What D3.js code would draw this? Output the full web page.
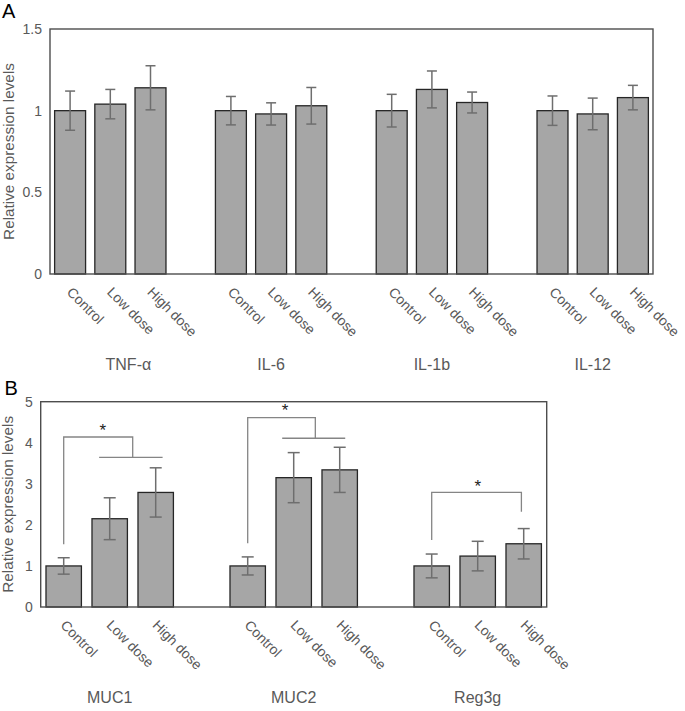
<!DOCTYPE html>
<html>
<head>
<meta charset="utf-8">
<script src="https://cdn.jsdelivr.net/npm/d3@7"></script>
<style>
  body { margin: 0; background: #fff; }
  svg { display: block; font-family: "Liberation Sans", Arial, sans-serif; }
</style>
</head>
<body>
<svg id="chart" width="685" height="711"></svg>
<script>
// ---------- data ----------
const doses = ["Control", "Low dose", "High dose"];

const groupsA = ["TNF-α", "IL-6", "IL-1b", "IL-12"];
const valuesA = [
  [1.00, 1.04, 1.14],
  [1.00, 0.98, 1.03],
  [1.00, 1.13, 1.05],
  [1.00, 0.98, 1.08]
];
const errorsA = [
  [0.12, 0.09, 0.135],
  [0.087, 0.068, 0.112],
  [0.10, 0.113, 0.064],
  [0.09, 0.097, 0.075]
];
const ticksA = [0, 0.5, 1, 1.5];
const groupLabelSlotA = [1.45, 5, 9, 13];

const groupsB = ["MUC1", "MUC2", "Reg3g"];
const valuesB = [
  [1.00, 2.15, 2.79],
  [1.00, 3.15, 3.34],
  [1.00, 1.24, 1.54]
];
const errorsB = [
  [0.20, 0.51, 0.60],
  [0.22, 0.61, 0.55],
  [0.29, 0.36, 0.37]
];
const ticksB = [0, 1, 2, 3, 4, 5];
const groupLabelSlotB = [1, 5, 9];

// significance brackets: [slot, value] polylines, star positions
const bracketLinesB = [
  [[0, 1.53], [0, 4.14], [1.5, 4.14], [1.5, 3.645]],
  [[0.77, 3.645], [2.15, 3.645]],
  [[4, 1.55], [4, 4.61], [5.47, 4.61], [5.47, 4.11]],
  [[4.75, 4.11], [6.12, 4.11]],
  [[8, 1.63], [8, 2.79], [9.95, 2.79], [9.95, 2.32]]
];
const starsB = [[0.85, 4.39], [4.81, 4.88], [9.0, 3.03]];

// ---------- drawing ----------
const svg = d3.select("#chart");
const textColor = "#595959";

function panel(cfg) {
  const g = svg.append("g");
  const nSlots = cfg.groups.length * 4 - 1;
  const slots = d3.range(nSlots);
  const x = d3.scaleBand().domain(slots).range([cfg.left, cfg.right])
    .paddingInner(0.23).paddingOuter(0.115);
  const xs = v => cfg.left + x.step() * (v + 0.5);
  const y = d3.scaleLinear().domain([0, cfg.max]).range([cfg.bottom, cfg.top]);

  const data = [];
  cfg.groups.forEach((gr, gi) => {
    doses.forEach((d, di) => {
      data.push({ slot: gi * 4 + di, dose: d, v: cfg.values[gi][di], e: cfg.errors[gi][di] });
    });
  });

  // y axis labels (no tick marks)
  const yAxis = d3.axisLeft(y).tickValues(cfg.ticks).tickSize(0).tickPadding(8)
    .tickFormat(d3.format("~g"));
  const ya = g.append("g").attr("transform", `translate(${cfg.left},0)`).call(yAxis);
  ya.select(".domain").remove();
  ya.selectAll("text").attr("fill", textColor).style("font-size", "14px")
    .style("font-family", "Liberation Sans, Arial, sans-serif");

  // bars
  g.selectAll(".bar").data(data).join("rect")
    .attr("x", d => x(d.slot)).attr("width", x.bandwidth())
    .attr("y", d => y(d.v)).attr("height", d => y(0) - y(d.v))
    .attr("fill", "#a6a6a6").attr("stroke", "#262626").attr("stroke-width", 1.3);

  // error bars
  const cap = cfg.cap;
  const eb = g.selectAll(".eb").data(data).join("g").attr("stroke", "#6e6e6e").attr("stroke-width", 1.5);
  eb.append("line").attr("x1", d => x(d.slot) + x.bandwidth() / 2).attr("x2", d => x(d.slot) + x.bandwidth() / 2)
    .attr("y1", d => y(d.v + d.e)).attr("y2", d => y(d.v - d.e));
  eb.append("line").attr("x1", d => x(d.slot) + x.bandwidth() / 2 - cap).attr("x2", d => x(d.slot) + x.bandwidth() / 2 + cap)
    .attr("y1", d => y(d.v + d.e)).attr("y2", d => y(d.v + d.e));
  eb.append("line").attr("x1", d => x(d.slot) + x.bandwidth() / 2 - cap).attr("x2", d => x(d.slot) + x.bandwidth() / 2 + cap)
    .attr("y1", d => y(d.v - d.e)).attr("y2", d => y(d.v - d.e));

  // frame
  g.append("rect").attr("x", cfg.left).attr("y", cfg.top)
    .attr("width", cfg.right - cfg.left).attr("height", cfg.bottom - cfg.top)
    .attr("fill", "none").attr("stroke", "#4d4d4d").attr("stroke-width", 1.4);

  // category labels rotated
  g.selectAll(".cat").data(data).join("text")
    .attr("transform", d => `translate(${x(d.slot) + x.bandwidth() / 2 - 4},${cfg.bottom + 19}) rotate(45)`)
    .attr("text-anchor", "start").attr("fill", textColor).style("font-size", "14px")
    .text(d => d.dose);

  // group labels
  g.selectAll(".grp").data(cfg.groups).join("text")
    .attr("x", (d, i) => xs(cfg.groupLabelSlot[i])).attr("y", cfg.groupY)
    .attr("text-anchor", "middle").attr("fill", textColor).style("font-size", "16px")
    .text(d => d);

  // y title
  g.append("text")
    .attr("transform", `translate(${cfg.titleX},${(cfg.top + cfg.bottom) / 2}) rotate(-90)`)
    .attr("text-anchor", "middle").attr("fill", textColor).style("font-size", "15.3px")
    .text("Relative expression levels");

  // panel letter
  g.append("text").attr("x", cfg.letterX).attr("y", cfg.letterY)
    .attr("fill", "#000").style("font-size", "20px").text(cfg.letter);

  // brackets
  if (cfg.brackets) {
    const line = d3.line().x(p => xs(p[0])).y(p => y(p[1]));
    g.selectAll(".br").data(cfg.brackets).join("path")
      .attr("d", line).attr("fill", "none").attr("stroke", "#858585").attr("stroke-width", 1.3);
    g.selectAll(".star").data(cfg.stars).join("text")
      .attr("x", p => xs(p[0])).attr("y", p => y(p[1]) + 9.5)
      .attr("text-anchor", "middle").attr("fill", "#222").style("font-size", "17px")
      .text("*");
  }
}

panel({
  groups: groupsA, values: valuesA, errors: errorsA, ticks: ticksA, max: 1.5,
  left: 50, right: 653, top: 29, bottom: 274, cap: 5,
  groupLabelSlot: groupLabelSlotA, groupY: 370, titleX: 14, letter: "A", letterX: 2, letterY: 17.5
});

panel({
  groups: groupsB, values: valuesB, errors: errorsB, ticks: ticksB, max: 5,
  left: 40.7, right: 546.7, top: 401.7, bottom: 607, cap: 6,
  groupLabelSlot: groupLabelSlotB, groupY: 703, titleX: 13, letter: "B", letterX: 4.5, letterY: 394.5,
  brackets: bracketLinesB, stars: starsB
});
</script>
</body>
</html>
